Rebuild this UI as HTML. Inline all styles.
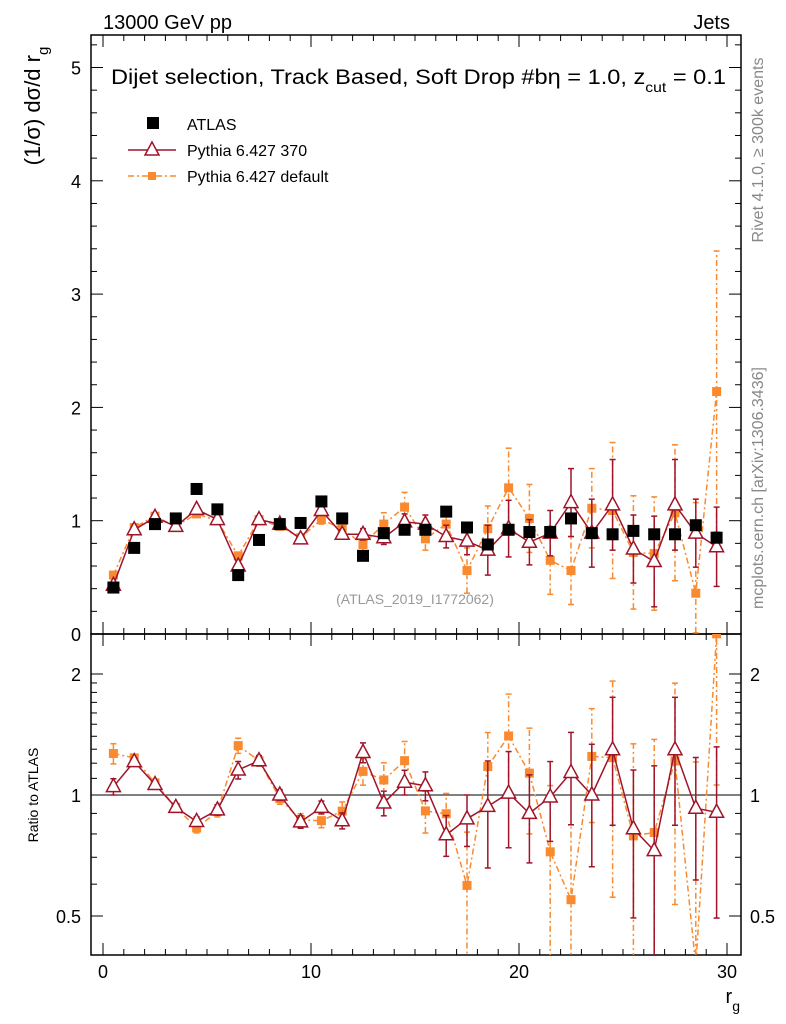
<!DOCTYPE html>
<html><head><meta charset="utf-8"><style>
html,body{margin:0;background:#fff;overflow:hidden;width:786px;height:1024px}
svg{font-family:"Liberation Sans",sans-serif;display:block}
</style></head><body>
<svg id="c" width="786" height="1024" xmlns="http://www.w3.org/2000/svg">
<text x="103" y="29" font-size="20">13000 GeV pp</text>
<text x="730" y="29" font-size="20" text-anchor="end">Jets</text>
<text x="111" y="84" font-size="21" textLength="615" lengthAdjust="spacingAndGlyphs">Dijet selection, Track Based, Soft Drop #bη = 1.0, z<tspan font-size="14" dy="8">cut</tspan><tspan dy="-8"> = 0.1</tspan></text>
<text transform="translate(40,106) rotate(-90)" font-size="22" text-anchor="middle">(1/σ) dσ/d r<tspan font-size="15" dy="8">g</tspan></text>
<text transform="translate(38,795) rotate(-90)" font-size="14" text-anchor="middle">Ratio to ATLAS</text>
<text x="740" y="1003" font-size="20" text-anchor="end">r<tspan font-size="14" dy="8">g</tspan></text>
<text transform="translate(763,150) rotate(-90)" font-size="16" fill="#888" text-anchor="middle">Rivet 4.1.0, ≥ 300k events</text>
<text transform="translate(763,488) rotate(-90)" font-size="16" fill="#888" text-anchor="middle">mcplots.cern.ch [arXiv:1306.3436]</text>
<text x="415" y="604" font-size="14" fill="#999" text-anchor="middle">(ATLAS_2019_I1772062)</text>
<g id="legend">
<rect x="147" y="117" width="12" height="12" fill="#000"/>
<text x="187" y="130" font-size="16">ATLAS</text>
<line x1="128" y1="150" x2="176" y2="150" stroke="#a0142a" stroke-width="1.5"/>
<path d="M152,142 L159,155 L145,155 Z" fill="#fff" stroke="#a0142a" stroke-width="1.5"/>
<text x="187" y="156" font-size="16">Pythia 6.427 370</text>
<line x1="128" y1="176" x2="176" y2="176" stroke="#f98a2f" stroke-width="1.5" stroke-dasharray="6,3,2,3"/>
<rect x="148" y="172" width="8" height="8" fill="#f98a2f"/>
<text x="187" y="182" font-size="16">Pythia 6.427 default</text>
</g>
</svg>
<script>
const xCenters=[0.5,1.5,2.5,3.5,4.5,5.5,6.5,7.5,8.5,9.5,10.5,11.5,12.5,13.5,14.5,15.5,16.5,17.5,18.5,19.5,20.5,21.5,22.5,23.5,24.5,25.5,26.5,27.5,28.5,29.5];
const atlasVals=[0.41,0.76,0.97,1.02,1.28,1.10,0.52,0.83,0.97,0.98,1.17,1.02,0.69,0.89,0.92,0.92,1.08,0.94,0.79,0.92,0.90,0.90,1.02,0.89,0.88,0.91,0.88,0.88,0.96,0.85];
const p370Vals=[0.43,0.92,1.03,0.95,1.10,1.01,0.60,1.01,0.97,0.84,1.09,0.88,0.88,0.85,0.99,0.97,0.86,0.82,0.74,0.93,0.81,0.89,1.16,0.89,1.14,0.75,0.64,1.14,0.89,0.77];
const p370Errs=[0.02,0.02,0.02,0.02,0.03,0.03,0.03,0.03,0.03,0.03,0.04,0.04,0.05,0.06,0.07,0.08,0.1,0.12,0.22,0.25,0.2,0.2,0.3,0.3,0.4,0.3,0.4,0.4,0.3,0.35];
const defVals=[0.52,0.94,1.04,0.95,1.06,1.00,0.69,1.01,0.95,0.85,1.01,0.93,0.79,0.97,1.12,0.84,0.97,0.56,0.93,1.29,1.02,0.65,0.56,1.11,1.09,0.72,0.71,1.07,0.36,2.14];
const defErrs=[0.03,0.02,0.02,0.02,0.03,0.03,0.03,0.03,0.03,0.03,0.04,0.05,0.06,0.1,0.13,0.1,0.12,0.2,0.2,0.35,0.3,0.3,0.3,0.35,0.6,0.5,0.5,0.6,0.8,1.24];
const xTicks=[0,10,20,30];
const yTicks=[0,1,2,3,4,5];
const rTicks=[0.5,1,2];

const NS="http://www.w3.org/2000/svg";
const svg=document.getElementById('c');
const L=91,R=741,T=35,MB=634,RB=955;
const X=v=>103+20.8*v;
const Y=v=>634-113.3*v;
const YR=v=>795-121*Math.log2(v);
function el(t,a,p){const e=document.createElementNS(NS,t);for(const k in a)e.setAttribute(k,a[k]);(p||svg).appendChild(e);return e;}
const f1=el('rect',{x:L,y:T,width:R-L,height:MB-T,fill:'none',stroke:'#000','stroke-width':1.5});


const f2=el('rect',{x:L,y:MB,width:R-L,height:RB-MB,fill:'none',stroke:'#000','stroke-width':1.5});


for(let v=0;v<=31;v++){const big=v%10===0;const len=big?12:6;const x=X(v);if(x>R)break;
 for(const [y0,d] of [[MB,-1],[T,1],[RB,-1],[MB,1]]) el('line',{x1:x,y1:y0,x2:x,y2:y0+d*len,stroke:'#000'});}
xTicks.forEach(v=>{const t=el('text',{x:X(v),y:978,'font-size':18,'text-anchor':'middle'});t.textContent=v;
 
 });
for(let v=0;v<=5.25;v+=0.2){const big=Math.abs(v-Math.round(v))<1e-6;const len=big?12:6;const y=Y(v);
 el('line',{x1:L,y1:y,x2:L+len,y2:y,stroke:'#000'});el('line',{x1:R,y1:y,x2:R-len,y2:y,stroke:'#000'});}
yTicks.forEach(v=>{const t=el('text',{x:81,y:Y(v)+7,'font-size':18,'text-anchor':'end'});t.textContent=v;
 
 });
[0.5,0.6,0.7,0.8,0.9,1,1.1,1.2,1.3,1.4,1.5,1.6,1.7,1.8,1.9,2].forEach(v=>{const big=rTicks.includes(v);const len=big?12:6;const y=YR(v);
 el('line',{x1:L,y1:y,x2:L+len,y2:y,stroke:'#000'});el('line',{x1:R,y1:y,x2:R-len,y2:y,stroke:'#000'});});
rTicks.forEach(v=>{for(const [x,a] of [[81,'end'],[750,'start']]){const t=el('text',{x:x,y:YR(v)+7,'font-size':18,'text-anchor':a});t.textContent=v;
 
 }});
el('line',{x1:L,y1:YR(1),x2:R,y2:YR(1),stroke:'#000'});
const defs=el('defs',{});
const c1=el('clipPath',{id:'cm'},defs);el('rect',{x:L,y:T,width:R-L,height:MB-T},c1);
const c2=el('clipPath',{id:'cr'},defs);el('rect',{x:L,y:MB,width:R-L,height:RB-MB},c2);
const gm=el('g',{'clip-path':'url(#cm)'});const gr=el('g',{'clip-path':'url(#cr)'});
function series(g,vals,errs,yf,color,dash,marker,name){
 const pts=xCenters.map((x,i)=>X(x)+','+yf(vals[i]).toFixed(1)).join(' ');
 const pl=el('polyline',{points:pts,fill:'none',stroke:color,'stroke-width':1.5,'stroke-dasharray':dash||''},g);
 
 
 xCenters.forEach((xc,i)=>{const x=X(xc);
  if(errs){const y1=yf(Math.max(vals[i]-errs[i],0.01)),y2=yf(vals[i]+errs[i]);
   el('line',{x1:x,y1:y1,x2:x,y2:y2,stroke:color,'stroke-width':1.5,'stroke-dasharray':dash||''},g);
   el('line',{x1:x-3,y1:y1,x2:x+3,y2:y1,stroke:color,'stroke-width':1.5},g);
   el('line',{x1:x-3,y1:y2,x2:x+3,y2:y2,stroke:color,'stroke-width':1.5},g);}
  const y=yf(vals[i]);let m;
  if(marker==='sqs') m=el('rect',{x:x-4.5,y:y-4.5,width:9,height:9,fill:color},g);
  else m=el('path',{d:`M${x},${y-8} L${x+7},${y+5} L${x-7},${y+5} Z`,fill:'#fff',stroke:color,'stroke-width':1.5},g);
  
  });
}
series(gm,defVals,defErrs,Y,'#f98a2f','6,3,2,3','sqs','pythia-default');
series(gm,p370Vals,p370Errs,Y,'#a0142a','','tri','pythia-370');
xCenters.forEach((xc,i)=>{const m=el('rect',{x:X(xc)-6,y:Y(atlasVals[i])-6,width:12,height:12,fill:'#000'},gm);
 
 });
const rDef=defVals.map((v,i)=>v/atlasVals[i]),rDefE=defErrs.map((v,i)=>v/atlasVals[i]);
const r370=p370Vals.map((v,i)=>v/atlasVals[i]),r370E=p370Errs.map((v,i)=>v/atlasVals[i]);
series(gr,rDef,rDefE,YR,'#f98a2f','6,3,2,3','sqs','ratio-default');
series(gr,r370,r370E,YR,'#a0142a','','tri','ratio-370');
</script>
</body></html>
